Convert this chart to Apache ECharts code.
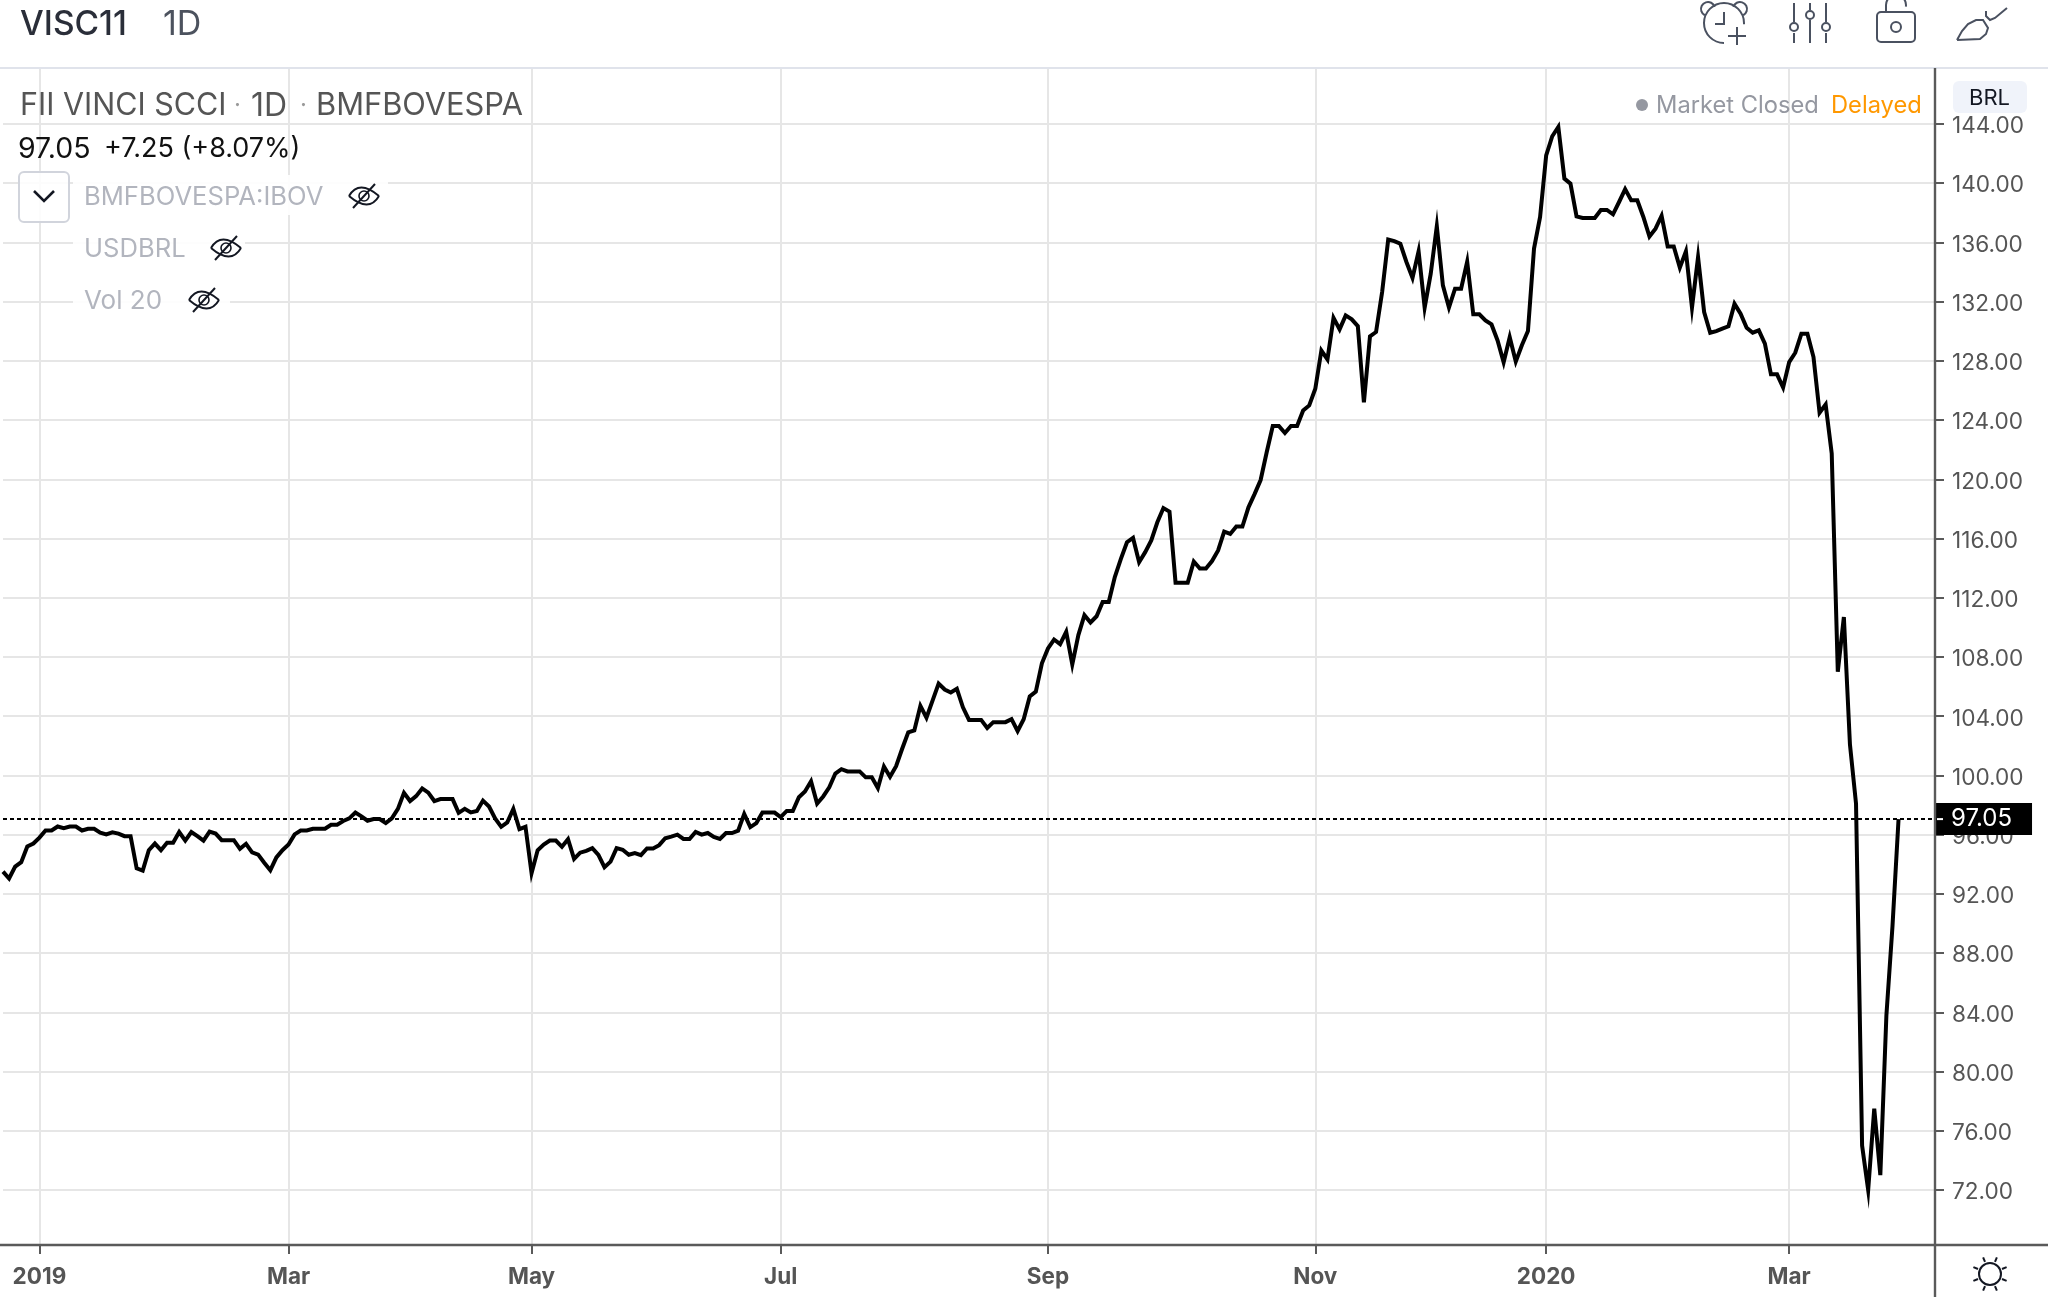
<!DOCTYPE html>
<html>
<head>
<meta charset="utf-8">
<title>VISC11</title>
<style>html,body{margin:0;padding:0;background:#fff}#chart{width:2048px;height:1297px}</style>
<script src="https://cdn.jsdelivr.net/npm/echarts@6/dist/echarts.min.js"></script>
</head>
<body>
<div id="chart"></div>
<script>
// Daily closes of FII VINCI SCCI (VISC11), BRL
const closesJanApr = [93.5,93.04,93.84,94.14,95.2,95.4,95.8,96.28,96.28,96.55,96.44,96.55,96.55,96.28,96.4,96.4,96.14,96.02,96.16,96.07,95.9,95.9,93.73,93.57,94.95,95.4,94.95,95.45,95.45,96.18,95.6,96.18,95.9,95.6,96.2,96.07,95.63,95.63,95.63,95.04,95.38,94.8,94.65,94.1,93.6,94.46,94.95,95.33,96.02,96.28,96.28,96.4,96.4,96.4,96.67,96.67,96.92,97.1,97.5,97.24,96.94,97.05,97.05,96.78,97.1,97.74,98.82,98.27,98.6,99.12,98.84,98.27,98.4,98.4,98.4,97.47,97.74,97.5,97.6,98.3,97.9,97.1,96.53,96.83,97.74,96.37,96.53];
const closesMayAug = [93.4,94.95,95.33,95.6,95.6,95.18,95.69,94.36,94.78,94.91,95.09,94.64,93.8,94.18,95.09,94.98,94.64,94.76,94.62,95.07,95.07,95.29,95.76,95.87,96.0,95.71,95.71,96.18,96.0,96.11,95.84,95.71,96.11,96.11,96.27,97.4,96.51,96.78,97.49,97.49,97.49,97.18,97.6,97.6,98.53,98.91,99.6,98.1,98.58,99.2,100.13,100.42,100.27,100.27,100.27,99.87,99.87,99.15,100.6,99.91,100.62,101.8,102.91,103.04,104.7,103.9,105.05,106.2,105.8,105.6,105.85,104.6,103.75,103.75,103.75,103.2,103.6,103.6,103.6,103.8,103.0];
const closesSepDec = [103.8,105.33,105.66,107.57,108.58,109.18,108.87,109.7,107.5,109.48,110.82,110.33,110.75,111.72,111.72,113.4,114.63,115.75,116.04,114.4,115.08,115.87,117.1,118.06,117.82,113.02,113.02,113.02,114.45,113.98,113.98,114.48,115.2,116.47,116.31,116.81,116.81,118.11,119.0,119.95,121.83,123.6,123.6,123.13,123.6,123.6,124.65,124.99,126.12,128.7,128.1,130.9,130.13,131.07,130.8,130.35,125.2,129.65,129.95,132.65,136.2,136.09,135.91,134.68,133.6,135.4,131.6,133.89,137.1,133.1,131.6,132.87,132.87,134.7,131.14,131.14,130.73,130.46,129.38,127.9,129.6,127.95,129.05,130.01,135.58,137.72,141.88,143.17,143.8];
const closes2020 = [140.31,139.97,137.76,137.65,137.65,137.65,138.19,138.19,137.9,138.73,139.6,138.84,138.84,137.72,136.4,136.93,137.8,135.73,135.73,134.3,135.4,131.6,135.0,131.3,129.9,130.01,130.17,130.33,131.85,131.18,130.24,129.9,130.06,129.16,127.09,127.09,126.2,127.92,128.55,129.83,129.83,128.26,124.5,125.05,121.75,107.0,110.7,102.1,98.1,75.0,72.0,77.5,73.0,83.8,89.8,97.05];

const closes = closesJanApr.concat(closesMayAug, closesSepDec, closes2020);

// Month labels sit on the first trading day of each period; the time scale runs a few sessions past the last close
const monthLabels = ['2019','Mar','May','Jul','Sep','Nov','2020','Mar'];
const monthIndexes = [6,47,87,128,172,216,254,294];
const rightPadSessions = 6;

const priceTicks = [72,76,80,84,88,92,96,100,104,108,112,116,120,124,128,132,136,140,144];
const priceMin = 68.285;
const priceMax = 147.78;

const lastClose = closes[closes.length - 1];

const categories = new Array(closes.length + rightPadSessions).fill('');
monthIndexes.forEach((idx, i) => { categories[idx] = monthLabels[i]; });
const isMonthTick = idx => monthIndexes.includes(idx);

const FONT = 'Inter, "Noto Sans", sans-serif';
const AXIS_COLOR = '#5a5a5a';
const ICON = '#4a5160';
const DARK = '#131722';

function txt(text, x, y, size, fill, weight) {
  return {type:'text', x, y, z:30, silent:true,
    style:{text, fontSize:size, fontFamily:FONT, fill, fontWeight:weight||400, textVerticalAlign:'middle', verticalAlign:'middle'}};
}
function seg(x1,y1,x2,y2,stroke,lineWidth,z) {
  return {type:'line', z:z||30, silent:true, shape:{x1,y1,x2,y2}, style:{stroke, lineWidth:lineWidth||2}};
}
function ring(cx,cy,r,stroke,lineWidth) {
  return {type:'circle', z:30, silent:true, shape:{cx,cy,r}, style:{stroke, fill:'transparent', lineWidth:lineWidth||2}};
}
function mask(x,y,width,height) {
  return {type:'rect', z:25, silent:true, shape:{x,y,width,height}, style:{fill:'rgba(255,255,255,0.9)'}};
}
function crossedEye(cx,cy) {
  return [
    {type:'bezierCurve', z:30, silent:true, shape:{x1:cx-15,y1:cy,cpx1:cx-5,cpy1:cy-17,x2:cx+15,y2:cy}, style:{stroke:DARK,lineWidth:2,fill:'none'}},
    {type:'bezierCurve', z:30, silent:true, shape:{x1:cx-15,y1:cy,cpx1:cx+5,cpy1:cy+17,x2:cx+15,y2:cy}, style:{stroke:DARK,lineWidth:2,fill:'none'}},
    ring(cx,cy,5,DARK,1.6),
    seg(cx-11,cy+12,cx+11,cy-12,DARK,2)
  ];
}
function sun(cx,cy) {
  const rays = [];
  for (let k = 0; k < 8; k++) {
    const a = Math.PI / 8 + k * Math.PI / 4;
    rays.push(seg(cx+13*Math.cos(a),cy+13*Math.sin(a),cx+18*Math.cos(a),cy+18*Math.sin(a),DARK,2));
  }
  return [ring(cx,cy,11,DARK,2)].concat(rays);
}

const chrome = [
  // top toolbar
  {type:'rect', z:20, silent:true, shape:{x:0,y:0,width:2048,height:67}, style:{fill:'#fff'}},
  seg(0,68,2048,68,'#e0e3eb',2,21),
  txt('VISC11',20,25,33.5,'#2a2e39',500),
  txt('1D',163,25,34,'#4c525e',400),

  // alarm
  {type:'arc', z:30, silent:true, shape:{cx:1724,cy:23,r:20,startAngle:Math.PI/2,endAngle:Math.PI*2.02,clockwise:true}, style:{stroke:ICON,lineWidth:2,fill:'none'}},
  {type:'arc', z:30, silent:true, shape:{cx:1708,cy:9,r:7,startAngle:Math.PI*0.65,endAngle:Math.PI*1.9,clockwise:true}, style:{stroke:ICON,lineWidth:2,fill:'none'}},
  {type:'arc', z:30, silent:true, shape:{cx:1740,cy:9,r:7,startAngle:Math.PI*1.1,endAngle:Math.PI*0.35,clockwise:true}, style:{stroke:ICON,lineWidth:2,fill:'none'}},
  {type:'polyline', z:30, silent:true, shape:{points:[[1724,12],[1724,24],[1715,24]]}, style:{stroke:ICON,lineWidth:2,fill:'none'}},
  seg(1737,27,1737,45,ICON,2), seg(1728,36,1746,36,ICON,2),

  // sliders
  seg(1794,3,1794,22,ICON,2), ring(1794,27,4,ICON,2), seg(1794,33,1794,43,ICON,2),
  seg(1810,3,1810,10,ICON,2), ring(1810,15,4,ICON,2), seg(1810,20,1810,43,ICON,2),
  seg(1826,3,1826,22,ICON,2), ring(1826,27,4,ICON,2), seg(1826,33,1826,43,ICON,2),

  // lock
  {type:'rect', z:30, silent:true, shape:{x:1877,y:12,width:38,height:30,r:4}, style:{stroke:ICON,lineWidth:2,fill:'none'}},
  ring(1896,27,5,ICON,2),
  {type:'arc', z:30, silent:true, shape:{cx:1896,cy:5,r:10,startAngle:Math.PI*1.0,endAngle:Math.PI*0.05,clockwise:true}, style:{stroke:ICON,lineWidth:2,fill:'none'}},
  seg(1886,5,1886,12,ICON,2),

  // brush
  {type:'polyline', z:30, silent:true, shape:{points:[[1957,40],[1962,31],[1968,24],[1976,20],[1983,20],[1988,28],[1986,34],[1980,39],[1957,40]]}, style:{stroke:ICON,lineWidth:2,fill:'none'}},
  {type:'polyline', z:30, silent:true, shape:{points:[[1986,11],[1986,16],[1990,20],[1995,18],[2007,8]]}, style:{stroke:ICON,lineWidth:2,fill:'none'}},

  // instrument legend
  txt('FII VINCI SCCI',20,106,30.5,'#555555',400),
  txt('\u00b7',234,106,24,'#9a9a9a',400),
  txt('1D',251,106,32,'#555555',400),
  txt('\u00b7',300,106,24,'#9a9a9a',400),
  txt('BMFBOVESPA',316,106,30.8,'#555555',400),
  txt('97.05',18,149,28.5,'#111111',400),
  txt('+7.25 (+8.07%)',104,149,27,'#111111',400),
  mask(73,175,315,40), mask(73,228,172,40), mask(73,282,157,40),
  {type:'rect', z:30, silent:true, shape:{x:19,y:172,width:50,height:50,r:5}, style:{stroke:'#d1d4dc',lineWidth:2,fill:'rgba(255,255,255,0.85)'}},
  {type:'polyline', z:31, silent:true, shape:{points:[[34,191],[44,201],[54,191]]}, style:{stroke:DARK,lineWidth:2.6,fill:'none'}},
  txt('BMFBOVESPA:IBOV',84,197,25.6,'#b2b5be',400),
  txt('USDBRL',84,249,25.6,'#b2b5be',400),
  txt('Vol 20',84,301,26,'#b2b5be',400),
  ...crossedEye(364,196),
  ...crossedEye(226,248),
  ...crossedEye(204,300),

  // session status
  {type:'circle', z:30, silent:true, shape:{cx:1642,cy:105,r:6}, style:{fill:'#9598a1'}},
  txt('Market Closed',1656,106,23.7,'#9598a1',400),
  txt('Delayed',1831,106,23.7,'#ff9800',400),

  // currency badge
  {type:'rect', z:30, silent:true, shape:{x:1953,y:81,width:74,height:32,r:6}, style:{fill:'#f0f3fa'}},
  txt('BRL',1969,98,22,DARK,400),

  // axis frame running to the page edges
  seg(0,1245,2048,1245,AXIS_COLOR,2.4,22),
  seg(1935,68,1935,1297,AXIS_COLOR,2.4,22),
  ...sun(1990,1274)
];

const chart = echarts.init(document.getElementById('chart'), null, {renderer:'canvas'});
chart.setOption({
  animation:false,
  backgroundColor:'#ffffff',
  textStyle:{fontFamily:FONT},
  grid:{left:3, right:113, top:68, bottom:52, containLabel:false},
  xAxis:{
    type:'category', data:categories, boundaryGap:false,
    axisLine:{show:false},
    axisTick:{show:true, length:9, interval:isMonthTick, lineStyle:{color:AXIS_COLOR, width:2}},
    axisLabel:{show:true, interval:isMonthTick, margin:21, color:'#555555', fontSize:22.5, fontWeight:700, fontFamily:FONT, hideOverlap:false},
    splitLine:{show:true, interval:isMonthTick, lineStyle:{color:'#e6e6e6', width:2}}
  },
  yAxis:{
    type:'value', position:'right', min:priceMin, max:priceMax, scale:true,
    axisLine:{show:false},
    axisTick:{show:true, length:9, customValues:priceTicks, lineStyle:{color:AXIS_COLOR, width:2}},
    axisLabel:{show:true, customValues:priceTicks, margin:17, fontFamily:FONT,
      formatter:v => '{price|' + v.toFixed(2) + '}',
      rich:{price:{color:'#555555', fontSize:22.6, fontFamily:FONT, verticalAlign:'top', padding:[5,0,0,0]}}},
    splitLine:{show:true, lineStyle:{color:'#e6e6e6', width:2}}
  },
  series:[{
    type:'line', data:closes, showSymbol:false, symbol:'none', smooth:false, silent:true, z:5,
    lineStyle:{color:'#000000', width:4, join:'miter', miterLimit:10, cap:'butt'},
    markLine:{
      silent:true, symbol:'none', z:10, animation:false,
      lineStyle:{color:'#000000', width:2, type:[4,3]},
      label:{show:true, position:'end', distance:0, formatter:p => p.value.toFixed(2),
        backgroundColor:'#000000', color:'#ffffff', fontSize:24, fontFamily:FONT,
        padding:[5,20,5,16], lineHeight:22},
      data:[{yAxis:lastClose}]
    }
  }],
  graphic:{elements:chrome}
});

// tick of the last close, white inside its black price tag
const lastY = chart.convertToPixel({yAxisIndex:0}, lastClose);
chart.setOption({graphic:{elements:chrome.concat([seg(1937,lastY,1943,lastY,'#ffffff',2,32)])}});
</script>
</body>
</html>
